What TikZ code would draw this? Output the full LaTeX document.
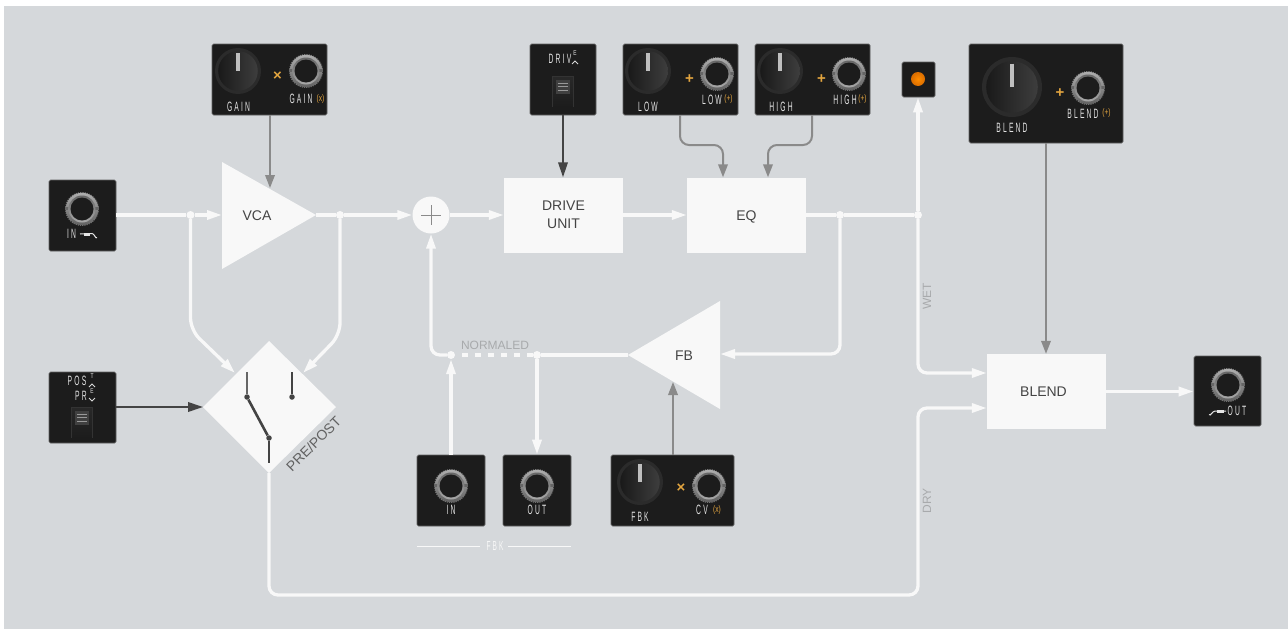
\documentclass[tikz,border=0pt]{standalone}
\usepackage{fontspec}
\setmainfont{Liberation Sans}
\newfontfamily\pnlfont[FakeStretch=0.5,LetterSpace=16]{Liberation Sans}
\newfontfamily\ofont[FakeStretch=0.7]{Liberation Sans}
\usetikzlibrary{arrows.meta,calc}
\definecolor{bgc}{HTML}{D5D8DB}
\definecolor{wirec}{HTML}{F8F8F8}
\definecolor{panelc}{HTML}{1C1C1C}
\definecolor{ctlc}{HTML}{8A8A8A}
\definecolor{darkc}{HTML}{444444}
\definecolor{labc}{HTML}{A8AAAC}
\definecolor{orc}{HTML}{E3A53F}
\definecolor{plabc}{HTML}{E4E4E4}
\tikzset{
  wire/.style={draw=wirec,line width=3.3pt},
  warrow/.style={wire,-{Triangle[length=15pt,width=9pt]}},
  ctl/.style={draw=ctlc,line width=2pt,-{Triangle[length=13pt,width=9.5pt]}},
  dctl/.style={draw=darkc,line width=2pt,-{Triangle[length=15pt,width=9.5pt]}},
  jdot/.style={circle,fill=wirec,inner sep=0pt,minimum size=8pt},
  block/.style={fill=wirec,inner sep=0pt,text=darkc,font=\fontsize{14}{16.5}\selectfont,align=center},
  tcap/.style={text height=10pt,text depth=0pt},
  panel/.style={fill=panelc,draw=panelc!70!white,line width=.7pt,rounded corners=1.5pt,inner sep=0pt},
  plab/.style={text=plabc,inner sep=0pt,font=\pnlfont\fontsize{13.5}{13.5}\selectfont},
  slab/.style={text=plabc,inner sep=0pt,font=\ofont\fontsize{7}{7}\selectfont},
  blab/.style={text=orc,inner sep=0pt,font=\ofont\fontsize{9.5}{9.5}\selectfont},
  olab/.style={text=orc,inner sep=0pt,font=\bfseries\fontsize{15}{15}\selectfont},
  glab/.style={text=labc,inner sep=0pt,font=\fontsize{12}{14}\selectfont},
  swl/.style={draw=darkc,line width=2pt},
  swd/.style={circle,fill=darkc,inner sep=0pt,minimum size=5.5pt},
}
\newcommand{\pnlbox}[5]{% name, x0, y0, x1, y1
  \node[panel,minimum width=#4pt-#2pt,minimum height=#5pt-#3pt] (#1) at ({(#2+#4)/2},{(#3+#5)/2}) {};}
\newcommand{\pnlknob}[3]{% x,y,r
  \fill[white!17!black] (#1,#2) circle ({#3});
  \shade[left color=white!10!black,right color=white!24!black] (#1,#2) circle ({#3*0.86});
  \draw[white!75!black,line width=3.3pt] (#1,#2) ++(0,{-#3*0.78}) -- ++(0,{#3*0.78});}
\newcommand{\pnljack}[2]{% x,y
  \draw[white!45!black,line width=1.4pt,dash pattern=on 1.2pt off 1pt] (#1,#2) circle (16.3);
  \shade[top color=white!68!black,bottom color=white!38!black] (#1,#2) circle (16.2);
  \fill[white!40!black] (#1-17,#2-2) rectangle (#1-13,#2+1);
  \fill[white!40!black] (#1+13,#2-2) rectangle (#1+17,#2+1);
  \shade[top color=white!40!black,bottom color=white!66!black] (#1,#2) circle (13.5);
  \fill[panelc] (#1,#2) circle (11.5);}
\newcommand{\pnlswitch}[2]{% x0,y0 (top-left of the slot)
  \shade[top color=white!16!black,bottom color=panelc] (#1,#2) rectangle (#1+21,#2+31);
  \draw[white!20!black,line width=.6pt] (#1,#2+31) -- (#1,#2) -- (#1+21,#2) -- (#1+21,#2+31);
  \fill[white!25!black] (#1+4,#2+4) rectangle (#1+18,#2+18);
  \foreach \q in {7,10.5,14}{\draw[white!60!black,line width=.9pt] (#1+6,#2+\q) -- (#1+16,#2+\q);}}
\newcommand{\pnlup}[2]{\draw[white!85!black,line width=.8pt] (#1-3,#2+2) -- (#1,#2-1) -- (#1+3,#2+2);}
\newcommand{\pnldn}[2]{\draw[white!85!black,line width=.8pt] (#1-3,#2-2) -- (#1,#2+1) -- (#1+3,#2-2);}
\begin{document}
\begin{tikzpicture}[x=1pt,y=-1pt]
\useasboundingbox (0,0) rectangle (1288,629);
\fill[white] (0,0) rectangle (1288,629);
\fill[bgc] (4,6) rectangle (1288,629);

% ---------- white blocks
\fill[wirec] (222,162) -- (316,215) -- (222,269) -- cycle;
\fill[wirec] (628,355) -- (720,301) -- (720,409) -- cycle;
\fill[wirec] (269,341) -- (336,407) -- (269,473) -- (203,407) -- cycle;
\node[block,tcap] (vca) at (257,215) {VCA};
\node[block,tcap] (fb) at (684,355) {FB};
\node[circle,fill=wirec,minimum size=37pt,inner sep=0pt] (sum) at (431,215) {};
\draw[ctlc,line width=1pt] (421,215) -- (441,215) (431,205) -- (431,225);
\node[block,minimum width=119pt,minimum height=75pt] (drive) at (563.5,215) {DRIVE\\[1pt]UNIT};
\node[block,tcap,minimum width=119pt,minimum height=75pt] (eq) at (746.5,215) {EQ};
\node[block,minimum width=119pt,minimum height=75pt] (blend) at (1046.5,391.5) {};
\node[block,tcap,fill=none] (lblendt) at (1043.5,391.5) {BLEND};

% ---------- anchor points on the triangles and diamond
\coordinate (vcaw) at (222,215);
\coordinate (vcat) at (316,215);
\coordinate (vcan) at (270,188);
\coordinate (fbt) at (628,355);
\coordinate (fbe) at (720,354);
\coordinate (fbs) at (673,382);
\coordinate (dial) at (203,407);
\coordinate (dial1) at (235,373);
\coordinate (dial2) at (303,373);
\coordinate (diab) at (269,473);

% ---------- panels
\pnlbox{pin}{49}{180}{116}{251}
\pnlbox{pgain}{212}{44}{327}{115}
\pnlbox{ppost}{49}{372}{116}{443}
\pnlbox{pdrive}{530}{44}{596}{115}
\pnlbox{plow}{623}{44}{738}{115}
\pnlbox{phigh}{755}{44}{870}{115}
\pnlbox{pled}{902}{62}{935}{97}
\pnlbox{pblend}{969}{44}{1123}{143}
\pnlbox{pout}{1194}{356}{1261}{426}
\pnlbox{pfin}{417}{455}{485}{526}
\pnlbox{pfout}{503}{455}{571}{526}
\pnlbox{pfbk}{611}{455}{734}{526}

% ---------- junctions
\node[jdot] (j1) at (190.5,215) {};
\node[jdot] (j2) at (340,215) {};
\node[jdot] (j3) at (840,215) {};
\node[jdot] (j4) at (918,215) {};
\node[jdot] (j5) at (451,355) {};
\node[jdot] (j6) at (537,355) {};

% ---------- white wires
\draw[wire] (pin.east |- j1) -- (j1);
\draw[warrow] (j1) -- (vcaw);
\draw[wire] (vcat) -- (j2);
\draw[warrow] (j2) -- (sum.west);
\draw[warrow] (sum.east) -- (drive.west);
\draw[warrow] (drive.east) -- (eq.west);
\draw[wire] (eq.east) -- (j3);
\draw[wire] (j3) -- (j4);
\draw[warrow] (j4) -- (pled.south -| j4);
\draw[warrow,rounded corners=12pt] (j1) -- (190.5,330) -- (dial1);
\draw[warrow,rounded corners=12pt] (j2) -- (340,335) -- (dial2);
\draw[warrow,rounded corners=9pt] (j3) -- (840,354) -- (fbe);
\draw[warrow,rounded corners=9pt] (j4) -- (918,373) -- (blend.west |- 0,373);
\draw[warrow,rounded corners=9pt] (diab) -- (269,595) -- (918,595) -- (918,408) -- (blend.west |- 0,408);
\draw[warrow] (blend.east) -- (pout.west |- blend.east);
\draw[wire] (fbt) -- (j6);
\draw[wire,dash pattern=on 6pt off 7pt] (j6) -- (j5);
\draw[warrow,rounded corners=9pt] (j5) -- (431,355) -- (sum.south);
\draw[warrow] (pfin.north) -- (j5.south);
\draw[warrow] (j6) -- (pfout.north);

% ---------- control wires
\draw[ctl] (pgain.south -| vcan) -- (vcan);
\draw[dctl] (pdrive.south) -- (drive.north -| pdrive.south);
\draw[dctl] (ppost.east |- dial) -- (dial);
\draw[ctl,rounded corners=9pt] (plow.south -| 680,0) -- (680,145) -- (723,145) -- (eq.north -| 723,0);
\draw[ctl,rounded corners=9pt] (phigh.south -| 812,0) -- (812,145) -- (768,145) -- (eq.north -| 768,0);
\draw[ctl] (pblend.south -| 1046,0) -- (blend.north -| 1046,0);
\draw[ctl] (pfbk.north -| fbs) -- (fbs);

% ---------- switch in the diamond
\node[swd] (sa) at (247,397) {};
\node[swd] (sb) at (269,438) {};
\node[swd] (sc) at (292,397) {};
\coordinate (sat) at (247,372);
\coordinate (sbb) at (269,463);
\coordinate (sct) at (292,372);
\draw[swl,draw=black!60!white] (sat) -- (sa);
\draw[swl,line width=2.6pt] (sa) -- (sb);
\draw[swl,line width=1.6pt] (sb) -- (sbb);
\draw[swl,line width=1.6pt] (sct) -- (sc);

% ---------- free labels
\node[block,fill=none,rotate=45,font=\fontsize{14}{14}\selectfont,text=black!62!white] (lpre) at (313.5,444) {PRE/POST};
\node[glab] (lnorm) at (495,345) {NORMALED};
\node[glab,rotate=90] (lwet) at (927,296) {WET};
\node[glab,rotate=90] (ldry) at (927,501) {DRY};
\node[plab,text=wirec,font=\pnlfont\fontsize{13}{13}\selectfont] (lfbk) at (495,546) {FBK};
\draw[wirec,line width=.8pt] (417,546) -- (480,546);
\draw[wirec,line width=.8pt] (508,546) -- (571,546);

% ---------- IN
\pnljack{82}{209}
\node[plab] (lin) at (71.5,234) {IN};
\draw[white!90!black,line width=1pt] (80,234) -- (92,233.5) to[out=0,in=-120] (97,237.5);
\draw[white!90!black,line width=3pt] (84,234) -- (90,234);

% ---------- GAIN
\pnlknob{238}{71}{23}
\node[olab] (xgain) at (277.5,76) {×};
\pnljack{306}{71}
\node[plab] (lgain) at (238.5,106.5) {GAIN};
\node[plab] (lgainj) at (301,99) {GAIN};
\node[blab] (lgainx) at (320.5,99) {(x)};

% ---------- POST/PRE
\node[plab] (lpos) at (77,381) {POS};
\node[slab] (lt) at (92,376) {T};
\pnlup{92}{385}
\node[plab] (lpr) at (81,396) {PR};
\node[slab] (le1) at (92,391.5) {E};
\pnldn{92}{400}
\pnlswitch{71}{407}

% ---------- DRIVE
\node[plab] (ldrive) at (560,58.5) {DRIV};
\node[slab] (le2) at (575,53.5) {E};
\pnlup{575}{62}
\pnlswitch{552}{76}

% ---------- LOW
\pnlknob{648}{71}{23}
\node[olab] (plow1) at (689.5,79.5) {+};
\pnljack{717}{74}
\node[plab] (llow) at (648,107) {LOW};
\node[plab] (llowj) at (712,99.5) {LOW};
\node[blab] (llowp) at (728.5,99.5) {(+)};

% ---------- HIGH
\pnlknob{780}{71}{23}
\node[olab] (phigh1) at (821.5,79.5) {+};
\pnljack{849}{74}
\node[plab] (lhigh) at (781,107) {HIGH};
\node[plab] (lhighj) at (845,99.5) {HIGH};
\node[blab] (lhighp) at (862.5,99.5) {(+)};

% ---------- LED
\shade[inner color=orange!90!yellow,outer color=orange!85!black] (918,79) circle (7);

% ---------- BLEND
\pnlknob{1012}{87}{30}
\node[olab] (pblend1) at (1060,93.5) {+};
\pnljack{1088}{88}
\node[plab] (lblend) at (1012,128) {BLEND};
\node[plab] (lblendj) at (1083,113.5) {BLEND};
\node[blab] (lblendp) at (1106.5,113.5) {(+)};

% ---------- OUT
\pnljack{1228}{385}
\node[plab] (lout) at (1237,411) {OUT};
\draw[white!90!black,line width=1pt] (1209,414.5) to[out=-60,in=180] (1215,411) -- (1226,411);
\draw[white!90!black,line width=3pt] (1217,411) -- (1224,411);

% ---------- FBK IN / OUT
\pnljack{451}{486}
\node[plab] (lfin) at (451,510) {IN};
\pnljack{537}{486}
\node[plab] (lfout) at (537,510) {OUT};

% ---------- FBK
\pnlknob{640}{482}{23}
\node[olab] (xfbk) at (681,488) {×};
\pnljack{709}{486}
\node[plab] (lfbkk) at (640,517) {FBK};
\node[plab] (lcv) at (702,510) {CV};
\node[blab] (lcvx) at (717,510) {(x)};
\end{tikzpicture}
\end{document}
